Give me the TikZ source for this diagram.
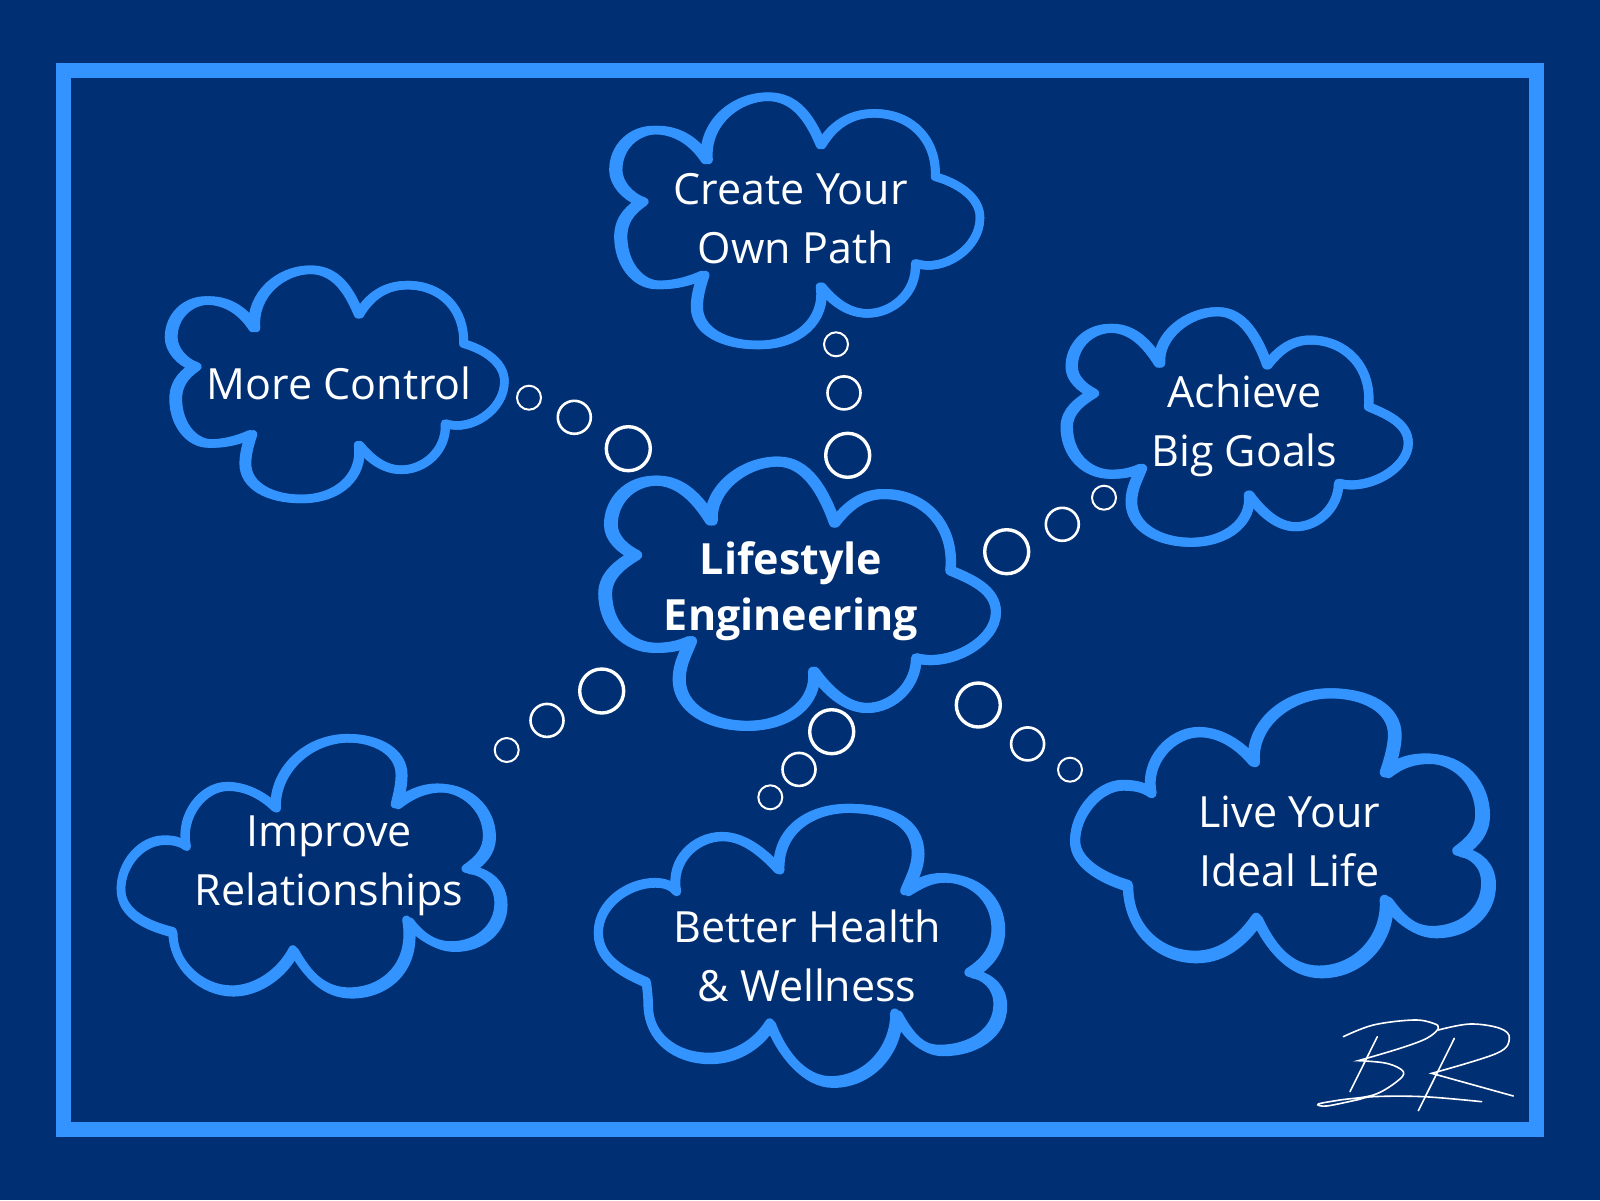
\documentclass[tikz,border=0pt]{standalone}
\usepackage{fontspec}
\setmainfont{Open Sans}
\usepackage{tikz}
\definecolor{pagenavy}{RGB}{0,48,115}
\definecolor{cloudblue}{RGB}{51,148,255}
\tikzset{
  cloudline/.style={draw=cloudblue,line join=round,line cap=round},
  upoutline/.style={insert path={
    (-156.7,-19) .. controls (-172,-24) and (-183.3,-38) .. (-183.3,-50.7)
      .. controls (-183.3,-74) and (-165,-90.7) .. (-143.3,-90.7)
      .. controls (-120,-90.7) and (-103,-78) .. (-91.7,-60.7)
      .. controls (-95,-98) and (-62,-124) .. (-30,-124)
      .. controls (-3,-124) and (12,-103) .. (23.3,-75.7)
      .. controls (35,-95) and (52,-107.3) .. (76.7,-107.3)
      .. controls (115,-107.3) and (140,-80) .. (138.3,-44)
      .. controls (160,-38) and (183.3,-24) .. (183.3,-3)
      .. controls (183.3,28) and (146,52) .. (118.3,42.7)
      .. controls (120,72) and (95,92.7) .. (70,92.7)
      .. controls (50,92.7) and (35,80) .. (23.3,66)
      .. controls (28,100) and (0,124.3) .. (-40,124.3)
      .. controls (-75,124.3) and (-101.7,110) .. (-101.7,86)
      .. controls (-101.7,75) and (-98,63) .. (-95,54.3)
      .. controls (-110,61) and (-125,64.3) .. (-140,64.3)
      .. controls (-162,64.3) and (-178.3,42) .. (-178.3,16)
      .. controls (-178.3,-4) and (-165,-13) .. (-156.7,-19)
  }},
  overoutline/.style={insert path={
    (-144.7,-32.9) .. controls (-155,-38) and (-166.3,-47) .. (-166.3,-59.5)
      .. controls (-166.3,-80) and (-150,-97.9) .. (-126.3,-97.9)
      .. controls (-105,-97.9) and (-90,-82) .. (-78,-62.9)
      .. controls (-80,-90) and (-50,-114.5) .. (-19.7,-114.5)
      .. controls (5,-114.5) and (20,-90) .. (30.3,-61.2)
      .. controls (42,-76) and (55,-86.2) .. (73.7,-86.2)
      .. controls (108,-86.2) and (136,-60) .. (132,-19.5)
      .. controls (150,-12) and (172,-3) .. (172,17.1)
      .. controls (172,42) and (132,65) .. (102,57.1)
      .. controls (102,80) and (82,100.5) .. (58.7,100.5)
      .. controls (40,100.5) and (24,85) .. (12,68.8)
      .. controls (15,95) and (-10,116.1) .. (-46.3,116.1)
      .. controls (-80,116.1) and (-106.3,100) .. (-106.3,75.5)
      .. controls (-106.3,62) and (-100,52) .. (-96.3,42.1)
      .. controls (-105,46) and (-115,48.1) .. (-126.3,48.1)
      .. controls (-152,48.1) and (-171.3,28) .. (-171.3,0.5)
      .. controls (-171.3,-15) and (-158,-25) .. (-144.7,-32.9)
  }},
  downoutline/.style={insert path={
    (-123.8,-54.5) .. controls (-130,-85) and (-105,-109.5) .. (-77.2,-109.5)
      .. controls (-55,-109.5) and (-35,-92) .. (-20.5,-76.2)
      .. controls (-22,-115) and (10,-137.8) .. (49.5,-137.8)
      .. controls (88,-137.8) and (119.5,-125) .. (119.5,-92)
      .. controls (119.5,-78) and (112,-65) .. (107.8,-54.5)
      .. controls (120,-62) and (130,-68) .. (145,-68)
      .. controls (175,-68) and (200.2,-48) .. (200.2,-16)
      .. controls (200.2,5) and (188,18) .. (172.8,27.8)
      .. controls (190,31) and (202.2,42) .. (202.2,60)
      .. controls (202.2,88) and (175,105.5) .. (142.8,105.5)
      .. controls (122,105.5) and (108,88) .. (97.8,68.8)
      .. controls (98,105) and (70,137.2) .. (32.8,137.2)
      .. controls (5,137.2) and (-18,108) .. (-28.8,78.8)
      .. controls (-42,100) and (-65,113.5) .. (-90,113.5)
      .. controls (-125,113.5) and (-152,92) .. (-152,60)
      .. controls (-152,52) and (-153,45) .. (-153.8,37.2)
      .. controls (-175,28) and (-202.2,15) .. (-202.2,-12.8)
      .. controls (-202.2,-42) and (-172,-63) .. (-145,-63)
      .. controls (-135,-63) and (-128,-60) .. (-123.8,-54.5)
  }},
  leftoutline/.style={insert path={
    (-126.3,-20.3) .. controls (-133,-50) and (-110,-80.3) .. (-84.7,-80.3)
      .. controls (-65,-80.3) and (-48,-70) .. (-36.3,-58.7)
      .. controls (-38,-95) and (-5,-128.7) .. (37,-128.7)
      .. controls (65,-128.7) and (90.3,-115) .. (90.3,-92)
      .. controls (90.3,-82) and (88,-72) .. (85.3,-62)
      .. controls (98,-72) and (112,-78.7) .. (128.7,-78.7)
      .. controls (155,-78.7) and (178.7,-58) .. (178.7,-30.3)
      .. controls (178.7,-15) and (170,-6) .. (157,3)
      .. controls (175,5) and (190.3,17) .. (190.3,38)
      .. controls (190.3,62) and (170,80.7) .. (142,80.7)
      .. controls (125,80.7) and (108,70) .. (97,54.7)
      .. controls (105,100) and (75,127.3) .. (38.7,127.3)
      .. controls (12,127.3) and (-5,108) .. (-18,84.7)
      .. controls (-30,108) and (-55,125.3) .. (-79.7,125.3)
      .. controls (-110,125.3) and (-139.7,100) .. (-139.7,66.3)
      .. controls (-165,60) and (-192,48) .. (-192,23)
      .. controls (-192,-2) and (-172,-26.3) .. (-148,-26.3)
      .. controls (-140,-26.3) and (-132,-25) .. (-126.3,-20.3)
  }},
  wideoutline/.style={insert path={
    (-132.1,-40.9) .. controls (-139,-72) and (-112,-101.9) .. (-83.8,-101.9)
      .. controls (-62,-101.9) and (-42,-88) .. (-28.8,-71.9)
      .. controls (-32,-110) and (5,-140.9) .. (48,-140.9)
      .. controls (85,-140.9) and (112.9,-125) .. (112.9,-99.2)
      .. controls (112.9,-88) and (109,-74) .. (104.5,-60.9)
      .. controls (117,-71) and (130,-75.2) .. (146.2,-75.2)
      .. controls (178,-75.2) and (201.2,-50) .. (201.2,-19.2)
      .. controls (201.2,-2) and (192,8) .. (177.9,18.1)
      .. controls (195,21) and (207.2,32) .. (207.2,50.8)
      .. controls (207.2,80) and (182,99.1) .. (152.9,99.1)
      .. controls (132,99.1) and (117,85) .. (104.5,67.5)
      .. controls (107,105) and (78,139.1) .. (37.9,139.1)
      .. controls (8,139.1) and (-12,115) .. (-25.5,85.8)
      .. controls (-38,104) and (-58,124.1) .. (-87.1,124.1)
      .. controls (-125,124.1) and (-155.5,95) .. (-155.5,52.5)
      .. controls (-175,47) and (-208.8,32) .. (-208.8,7.5)
      .. controls (-208.8,-20) and (-185,-48.5) .. (-160.5,-48.5)
      .. controls (-150,-48.5) and (-140,-47) .. (-132.1,-40.9)
  }},
  % two copies, so the stroke is heavier on one side
  cloudup/.pic={
    \draw[cloudline,upoutline];
    \draw[cloudline,xshift=2.4pt,xscale=.987,upoutline];
  },
  cloudover/.pic={
    \draw[cloudline,overoutline];
    \draw[cloudline,xshift=1.7pt,xscale=.99,overoutline];
  },
  clouddown/.pic={
    \draw[cloudline,downoutline];
    \draw[cloudline,xshift=-2.4pt,xscale=.988,yshift=1.4pt,yscale=.99,downoutline];
  },
  cloudleft/.pic={
    \draw[cloudline,leftoutline];
    \draw[cloudline,xshift=-2.4pt,xscale=.988,yshift=1.4pt,yscale=.99,leftoutline];
  },
  cloudwide/.pic={
    \draw[cloudline,wideoutline];
    \draw[cloudline,xshift=-2.4pt,xscale=.988,yshift=1.4pt,yscale=.99,wideoutline];
  },
  cloudtext/.style={text=white,align=center,anchor=base,inner sep=0pt,font=\fontsize{43}{59}\selectfont},
  bubblesmall/.style={circle,draw=white,line width=2pt,minimum size=24pt,inner sep=0pt},
  bubblemid/.style={circle,draw=white,line width=2.6pt,minimum size=33pt,inner sep=0pt},
  bubblebig/.style={circle,draw=white,line width=3.4pt,minimum size=44pt,inner sep=0pt},
  signline/.style={draw=white,line width=1.6pt,line cap=round,smooth,tension=.6}
}
\begin{document}
\begin{tikzpicture}[x=1pt,y=-1pt]
  \fill[pagenavy] (0,0) rectangle (1600,1200);
  \useasboundingbox (0,0) rectangle (1600,1200);
  \draw[draw=cloudblue,line width=15pt] (63,70.2) rectangle (1536.8,1129.2);

  \pic[line width=8.5pt] (pathcloud) at (796.7,220.7) {cloudup};
  \pic[line width=8.5pt,xscale=.915,yscale=.923] (controlcloud) at (336.7,384.2) {cloudup};
  \pic[line width=9pt] (goalscloud) at (1236.3,426.2) {cloudover};
  \pic[line width=10pt,xscale=1.144,yscale=1.146] (maincloud) at (799.2,592.8) {cloudover};
  \pic[line width=8.5pt] (relationcloud) at (313,867) {cloudleft};
  \pic[line width=9pt] (healthcloud) at (800.5,946.2) {clouddown};
  \pic[line width=10pt] (lifecloud) at (1283.8,834.2) {cloudwide};

  \node[cloudtext] (pathtext) at (795.8,263.5) {Create Your\hspace*{10pt}\\Own Path};
  \node[cloudtext] (controltext) at (339.3,399.3) {More Control};
  \node[cloudtext] (goalstext) at (1244.3,466) {Achieve\\Big Goals};
  \node[cloudtext,font=\fontsize{43}{56}\selectfont\bfseries] (maintext) at (791,630.5) {Lifestyle\\Engineering};
  \node[cloudtext] (relationtext) at (329,905.2) {Improve\\Relationships};
  \node[cloudtext] (healthtext) at (807,1001) {Better Health\\\& Wellness};
  \node[cloudtext] (lifetext) at (1289.2,886.7) {Live Your\\Ideal Life};

  \node[bubblesmall] (control1) at (529,397.7) {};
  \node[bubblemid] (control2) at (574.3,417.3) {};
  \node[bubblebig] (control3) at (628.3,448.7) {};
  \node[bubblesmall] (path1) at (836,344.3) {};
  \node[bubblemid] (path2) at (844,392.9) {};
  \node[bubblebig] (path3) at (847.7,455.3) {};
  \node[bubblesmall] (goals1) at (1104,497.7) {};
  \node[bubblemid] (goals2) at (1062.3,524.3) {};
  \node[bubblebig] (goals3) at (1006.7,551.7) {};
  \node[bubblesmall] (relation1) at (506.7,750) {};
  \node[bubblemid] (relation2) at (547,720.4) {};
  \node[bubblebig] (relation3) at (601.7,691) {};
  \node[bubblesmall] (health1) at (770.3,797.3) {};
  \node[bubblemid] (health2) at (799,769.4) {};
  \node[bubblebig] (health3) at (831.7,731.7) {};
  \node[bubblesmall] (life1) at (1070,769.7) {};
  \node[bubblemid] (life2) at (1027.6,743.9) {};
  \node[bubblebig] (life3) at (978.3,705) {};

  % signature
  \begin{scope}[shift={(1290,1000)},scale=.3333]
    \draw[signline] plot coordinates {(160,110) (250,75) (370,60) (430,70) (445,85) (410,115) (330,145) (205,182)}
      -- plot coordinates {(205,182) (290,190) (340,215) (320,245) (250,285) (150,300) (85,312) (110,318) (200,300) (250,290) (400,290) (575,305)};
    \draw[signline] plot coordinates {(262,110) (180,275)};
    \draw[signline] plot coordinates {(493,115) (385,332)};
    \draw[signline] plot coordinates {(445,90) (540,72) (630,85) (658,115) (620,160) (425,220)}
      -- (670,288);
  \end{scope}
\end{tikzpicture}
\end{document}
